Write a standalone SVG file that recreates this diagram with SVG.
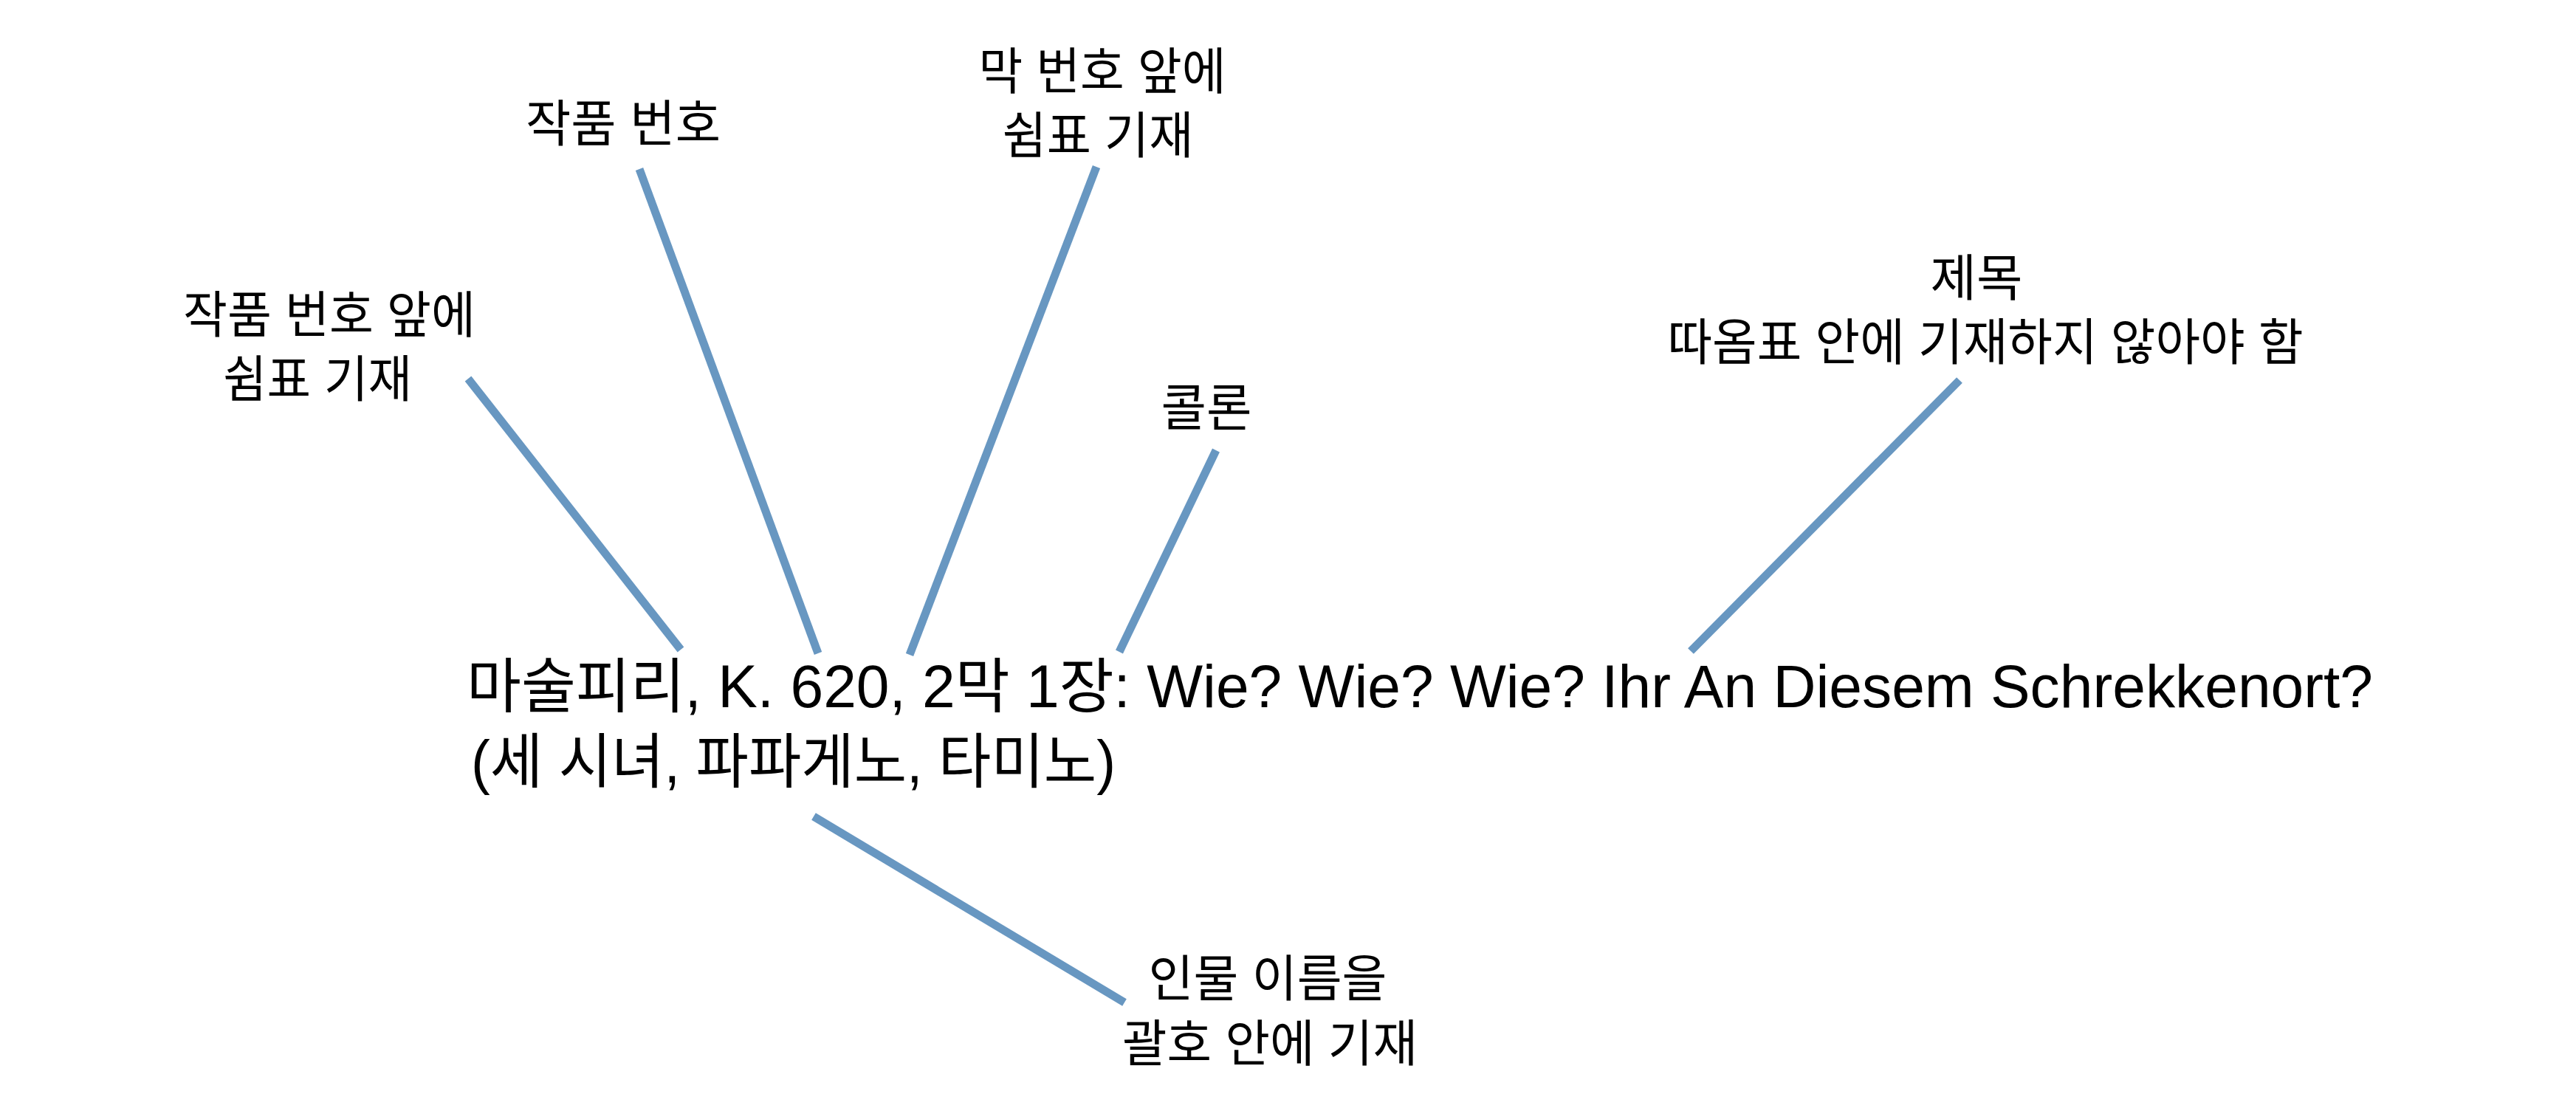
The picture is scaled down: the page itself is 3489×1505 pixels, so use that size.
<svg xmlns="http://www.w3.org/2000/svg" width="3489" height="1505" viewBox="0 0 3489 1505">
<style>
.main{font-family:"Liberation Sans","Noto Sans CJK KR",sans-serif;font-size:81px;fill:#000}
.lbl{font-family:"Liberation Sans","Noto Sans CJK KR",sans-serif;font-size:68px;fill:#000;text-anchor:middle}
.conn line{stroke:#6897C1;stroke-width:11;stroke-linecap:butt}
</style>
<rect width="3489" height="1505" fill="#fff"/>
<g id="connectors" class="conn">
<line x1="634" y1="513" x2="922" y2="880"/>
<line x1="866" y1="229" x2="1108" y2="885"/>
<line x1="1485" y1="226" x2="1232" y2="887"/>
<line x1="1647" y1="610" x2="1516" y2="883"/>
<line x1="2654" y1="515" x2="2290" y2="882"/>
<line x1="1102" y1="1106" x2="1523" y2="1358"/>
</g>
<g id="title">
<text class="main" x="632" y="958" textLength="2582" lengthAdjust="spacingAndGlyphs">마술피리, K. 620, 2막 1장: Wie? Wie? Wie? Ihr An Diesem Schrekkenort?</text>
<text class="main" x="638" y="1060" textLength="873" lengthAdjust="spacingAndGlyphs">(세 시녀, 파파게노, 타미노)</text>
</g>
<g id="label-opus-comma">
<text class="lbl" x="446" y="451" textLength="396" lengthAdjust="spacingAndGlyphs">작품 번호 앞에</text>
<text class="lbl" x="430" y="538" textLength="256" lengthAdjust="spacingAndGlyphs">쉼표 기재</text>
</g>
<g id="label-opus">
<text class="lbl" x="844" y="192" textLength="264" lengthAdjust="spacingAndGlyphs">작품 번호</text>
</g>
<g id="label-act-comma">
<text class="lbl" x="1493" y="121" textLength="335" lengthAdjust="spacingAndGlyphs">막 번호 앞에</text>
<text class="lbl" x="1487" y="208" textLength="259" lengthAdjust="spacingAndGlyphs">쉼표 기재</text>
</g>
<g id="label-colon">
<text class="lbl" x="1634" y="577" textLength="123" lengthAdjust="spacingAndGlyphs">콜론</text>
</g>
<g id="label-title">
<text class="lbl" x="2677" y="401" textLength="125" lengthAdjust="spacingAndGlyphs">제목</text>
<text class="lbl" x="2689" y="488" textLength="861" lengthAdjust="spacingAndGlyphs">따옴표 안에 기재하지 않아야 함</text>
</g>
<g id="label-characters">
<text class="lbl" x="1717" y="1350" textLength="323" lengthAdjust="spacingAndGlyphs">인물 이름을</text>
<text class="lbl" x="1720" y="1438" textLength="400" lengthAdjust="spacingAndGlyphs">괄호 안에 기재</text>
</g>
</svg>
